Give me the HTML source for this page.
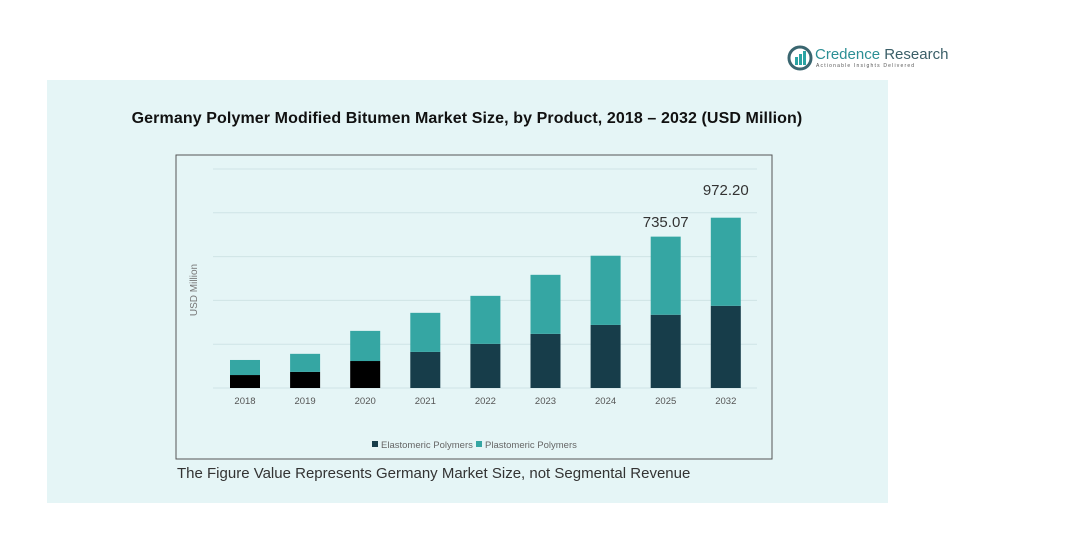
<!DOCTYPE html>
<html><head><meta charset="utf-8"><style>
body{margin:0;width:1088px;height:558px;background:#fff;font-family:"Liberation Sans",sans-serif;position:relative;overflow:hidden}
#panel{position:absolute;left:47px;top:80px;width:841px;height:423px;background:#e5f5f6}
</style></head><body>
<div style="position:absolute;left:787px;top:45px;width:160px;height:28px">
<svg width="26" height="26" style="position:absolute;left:0;top:0"><circle cx="13" cy="13" r="11" fill="none" stroke="#3a6670" stroke-width="3"/><rect x="8" y="12" width="3" height="8" fill="#2aa3a3"/><rect x="12" y="9" width="3" height="11" fill="#2aa3a3"/><rect x="16" y="6" width="3" height="14" fill="#2aa3a3"/></svg>
<div style="position:absolute;left:28px;top:1px;font-size:15px;color:#2b8f95;white-space:nowrap">Credence <span style="color:#3b5f68">Research</span></div>
<div style="position:absolute;left:29px;top:18px;font-size:5px;letter-spacing:1.2px;color:#555;white-space:nowrap">Actionable Insights Delivered</div>
</div>
<div id="panel"></div>
<div style="position:absolute;left:0;width:934px;top:110px;text-align:center;font-size:16px;font-weight:bold;color:#111;letter-spacing:0.1px">Germany Polymer Modified Bitumen Market Size, by Product, 2018 – 2032 (USD Million)</div>
<svg id="chart" width="1088" height="558" style="position:absolute;left:0;top:0">
<rect x="176" y="155" width="596" height="304" fill="none" stroke="#555" stroke-width="1"/>
<g id="grid"></g><g id="bars"></g><g id="labels"></g>
<text x="197" y="290" transform="rotate(-90 197 290)" text-anchor="middle" font-size="10" fill="#777">USD Million</text>
<rect x="372" y="441" width="6" height="6" fill="#173d4a"/>
<text x="381" y="448" font-size="9.5" fill="#666">Elastomeric Polymers</text>
<rect x="476" y="441" width="6" height="6" fill="#35a6a3"/>
<text x="485" y="448" font-size="9.5" fill="#666">Plastomeric Polymers</text>
</svg>
<div style="position:absolute;left:177px;top:465px;font-size:15px;color:#333">The Figure Value Represents Germany Market Size, not Segmental Revenue</div>
<script>
const categories=["2018","2019","2020","2021","2022","2023","2024","2025","2032"];
const elastomeric=[74,92,154,206,252,309,360,418,469];
const plastomeric=[86,103,172,223,274,337,395,446,503];
const totalLabels=["","","","","","","","735.07","972.20"];
const gridValues=[250,500,750,1000,1250];
const NS="http://www.w3.org/2000/svg";
const y0=388,yMax=1250,plotH=219;
const yS=v=>y0-v/yMax*plotH;
const xS=i=>230+i*60.1;
const bw=30;
function mk(t,a,p){const e=document.createElementNS(NS,t);for(const k in a)e.setAttribute(k,a[k]);document.getElementById(p).appendChild(e);return e;}
gridValues.forEach(v=>{const l=mk('line',{x1:213,x2:757,y1:yS(v),y2:yS(v),stroke:'#cfe3e5','stroke-width':1},'grid');

});
const base=mk('line',{x1:213,x2:757,y1:y0,y2:y0,stroke:'#cfe3e5'},'grid');


categories.forEach((c,i)=>{
const x=xS(i);
const e=elastomeric[i],p=plastomeric[i];
const r1=mk('rect',{x:x,y:yS(e),width:bw,height:y0-yS(e),fill:i<3?'#000':'#173d4a'},'bars');


const r2=mk('rect',{x:x,y:yS(e+p),width:bw,height:yS(e)-yS(e+p),fill:'#35a6a3'},'bars');


const t=mk('text',{x:x+bw/2,y:404,'text-anchor':'middle','font-size':'9.5',fill:'#555'},'labels');t.textContent=c;


if(totalLabels[i]){const v=mk('text',{x:x+bw/2,y:yS(e+p)-12,'text-anchor':'middle','font-size':'15',fill:'#333'},'labels');v.textContent=totalLabels[i];
v.setAttribute('y',i==8?195:227);

}
});
</script>
</body></html>
